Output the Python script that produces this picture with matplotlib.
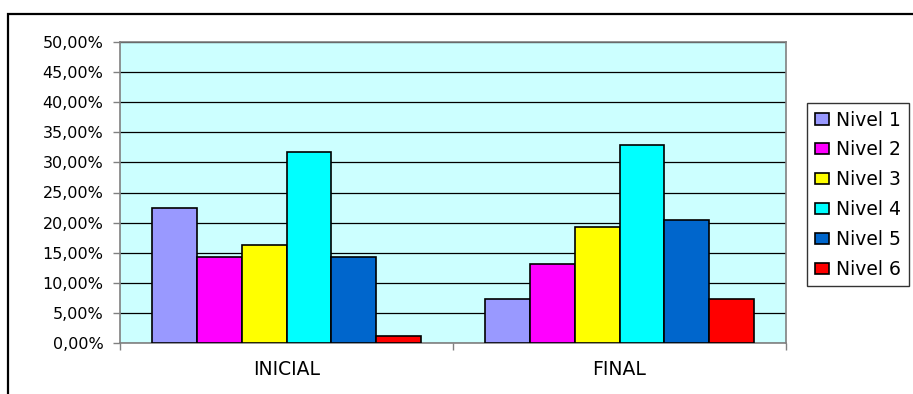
import numpy as np
import matplotlib
matplotlib.use("Agg")
import matplotlib.pyplot as plt
from matplotlib.patches import Rectangle

plt.rcParams['font.family'] = ['DejaVu Sans']

# data
categories = ['INICIAL', 'FINAL']
levels = ['Nivel 1', 'Nivel 2', 'Nivel 3', 'Nivel 4', 'Nivel 5', 'Nivel 6']
inicial = [22.4, 14.3, 16.2, 31.7, 14.3, 1.2]
final = [7.3, 13.2, 19.2, 32.9, 20.4, 7.3]
colors = ['#9999FF', '#FF00FF', '#FFFF00', '#00FFFF', '#0066CC', '#FF0000']
yticks = np.arange(0, 55, 5)

W, H = 913, 394
fig = plt.figure(figsize=(W / 100, H / 100), dpi=100)
fig.patch.set_facecolor('white')

# outer chart frame (only top and left edges visible)
fig.add_artist(Rectangle((8 / W, -0.1), 1.2, (H - 14) / H + 0.1, transform=fig.transFigure,
                         fill=False, edgecolor='black', linewidth=1.6))

ax = fig.add_axes([120 / W, 51 / H, 666 / W, 301 / H])
ax.set_facecolor('#CCFFFF')

values = np.array([inicial, final])
x = np.arange(len(categories))
n = len(levels)
group = 0.805
bw = group / n
for i, lvl in enumerate(levels):
    offs = -group / 2 + bw * (i + 0.5)
    ax.bar(x + offs, values[:, i], width=bw, color=colors[i], edgecolor='black',
           linewidth=1.2, label=lvl, zorder=3)

ax.set_xlim(-0.5, 1.5)
ax.set_ylim(0, 50)
ax.set_yticks(yticks)
ax.set_yticklabels([f'{v:.2f}%'.replace('.', ',') for v in yticks], fontsize=11.5)
ax.yaxis.grid(True, color='black', linewidth=0.9, zorder=1)
ax.tick_params(axis='y', length=5, width=1, color='#808080', pad=7)

ax.set_xticks(x)
ax.set_xticklabels(categories, fontsize=13.5)
ax.tick_params(axis='x', which='major', length=0, pad=12)
ax.set_xticks([-0.5, 0.5, 1.5], minor=True)
ax.tick_params(axis='x', which='minor', length=5, width=1, color='#808080', direction='out')

for s in ax.spines.values():
    s.set_color('#808080')
    s.set_linewidth(1.2)

leg = ax.legend(loc='upper left', bbox_to_anchor=(807 / W, (H - 103) / H),
                bbox_transform=fig.transFigure, fontsize=13.5, frameon=True,
                fancybox=False, edgecolor='black', handlelength=0.75, handleheight=0.55,
                handletextpad=0.4, labelspacing=0.58, borderpad=0.4, borderaxespad=0)
leg.get_frame().set_linewidth(1.0)

fig.savefig('out.png', dpi=100)
